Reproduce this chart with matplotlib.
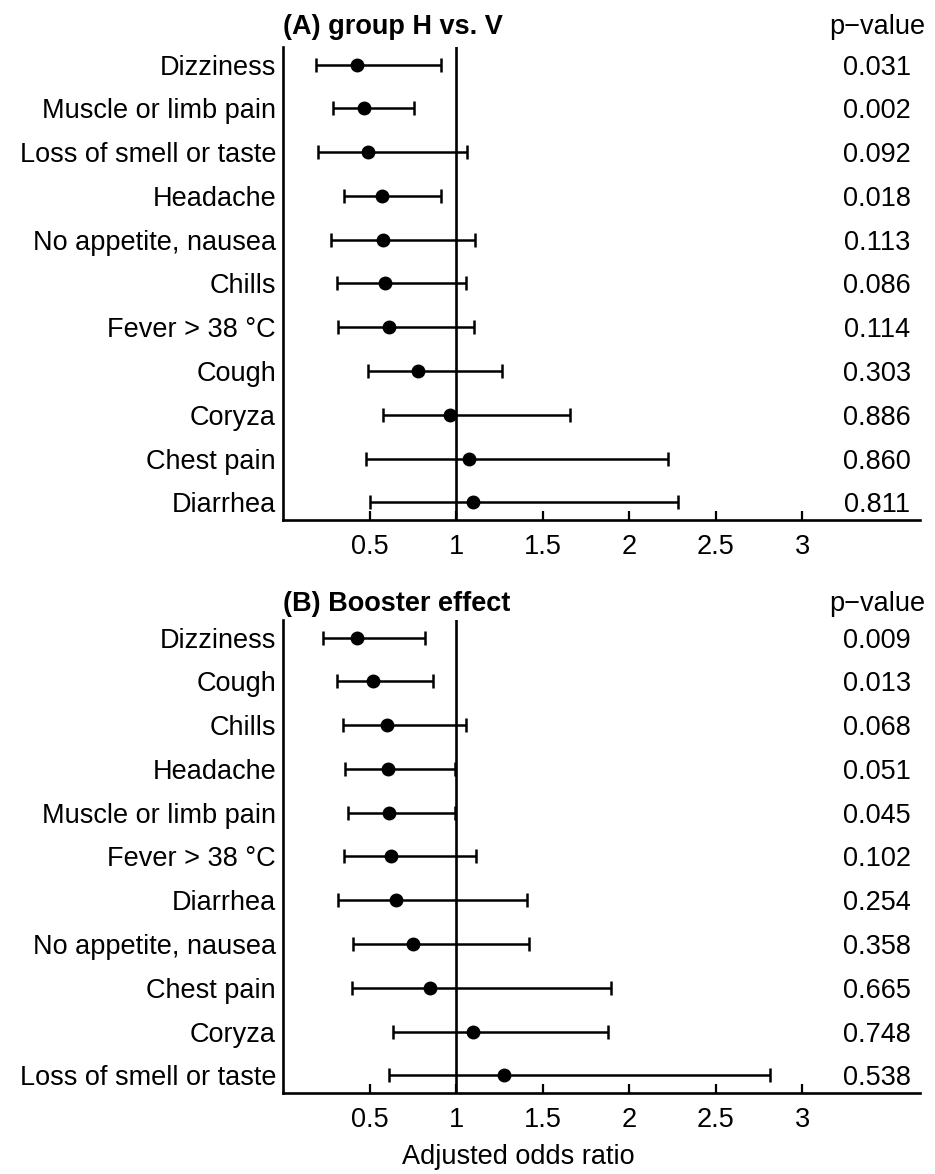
import matplotlib
matplotlib.use("Agg")
import matplotlib.pyplot as plt
import matplotlib.transforms as mtransforms

plt.rcParams['font.family'] = ['Liberation Sans', 'DejaVu Sans']

# (A) group H vs. V
labels_a = ["Dizziness", "Muscle or limb pain", "Loss of smell or taste", "Headache",
            "No appetite, nausea", "Chills", "Fever > 38 °C", "Cough", "Coryza",
            "Chest pain", "Diarrhea"]
or_a = [0.43, 0.47, 0.49, 0.57, 0.58, 0.59, 0.61, 0.78, 0.965, 1.075, 1.10]
lo_a = [0.19, 0.29, 0.20, 0.35, 0.28, 0.31, 0.32, 0.49, 0.58, 0.48, 0.50]
hi_a = [0.91, 0.755, 1.065, 0.91, 1.11, 1.06, 1.105, 1.265, 1.66, 2.225, 2.28]
p_a = ["0.031", "0.002", "0.092", "0.018", "0.113", "0.086", "0.114", "0.303",
       "0.886", "0.860", "0.811"]

# (B) Booster effect
labels_b = ["Dizziness", "Cough", "Chills", "Headache", "Muscle or limb pain",
            "Fever > 38 °C", "Diarrhea", "No appetite, nausea", "Chest pain",
            "Coryza", "Loss of smell or taste"]
or_b = [0.43, 0.52, 0.60, 0.605, 0.61, 0.625, 0.65, 0.75, 0.85, 1.10, 1.275]
lo_b = [0.23, 0.31, 0.345, 0.36, 0.375, 0.355, 0.315, 0.405, 0.40, 0.635, 0.615]
hi_b = [0.82, 0.865, 1.055, 0.995, 0.995, 1.115, 1.41, 1.42, 1.895, 1.875, 2.815]
p_b = ["0.009", "0.013", "0.068", "0.051", "0.045", "0.102", "0.254", "0.358",
       "0.665", "0.748", "0.538"]

xticks = [0.5, 1, 1.5, 2, 2.5, 3]
xticklabels = ["0.5", "1", "1.5", "2", "2.5", "3"]

W, H = 935, 1174
fig = plt.figure(figsize=(W / 100, H / 100), dpi=100)


def fx(px):
    return px / W


def fy(py):
    return 1 - py / H


FS = 19.5


def forest(ax, labels, est, lo, hi, pvals, title, title_base):
    y = list(range(1, len(labels) + 1))
    xerr = [[e - l for e, l in zip(est, lo)], [h - e for e, h in zip(est, hi)]]
    ax.errorbar(est, y, xerr=xerr, fmt='o', color='black', ms=9, elinewidth=1.8,
                capsize=5, capthick=1.8)
    ax.axvline(1, color='black', lw=1.9)
    ax.set_ylim(len(labels) + 0.4, 0.6)
    ax.set_xlim(0, 3.68)
    ax.set_yticks(y)
    ax.set_yticklabels(labels, fontsize=FS)
    ax.set_xticks(xticks)
    ax.set_xticklabels(xticklabels, fontsize=FS)
    ax.tick_params(axis='y', length=0, pad=5)
    ax.tick_params(axis='x', direction='in', length=6.5, width=1.6, pad=10)
    for s in ('top', 'right'):
        ax.spines[s].set_visible(False)
    for s in ('left', 'bottom'):
        ax.spines[s].set_linewidth(1.9)
    trans = mtransforms.blended_transform_factory(fig.transFigure, ax.transData)
    for yi, p in zip(y, pvals):
        ax.text(fx(877), yi, p, transform=trans, ha='center', va='center_baseline',
                fontsize=FS)
    fig.text(fx(283), fy(title_base), title, fontsize=FS, fontweight='bold',
             ha='left', va='baseline')
    fig.text(fx(877), fy(title_base), "p\u2212value", fontsize=FS,
             ha='center', va='baseline')


ax_a = fig.add_axes([fx(283), fy(520), fx(920 - 283), (520 - 47) / H])
ax_b = fig.add_axes([fx(283), fy(1093), fx(920 - 283), (1093 - 620) / H])

forest(ax_a, labels_a, or_a, lo_a, hi_a, p_a, "(A) group H vs. V", 34)
forest(ax_b, labels_b, or_b, lo_b, hi_b, p_b, "(B) Booster effect", 611)

fig.text(fx(518), fy(1157), "Adjusted odds ratio", fontsize=FS, ha='center', va='center')

fig.savefig("out.png", dpi=100)
